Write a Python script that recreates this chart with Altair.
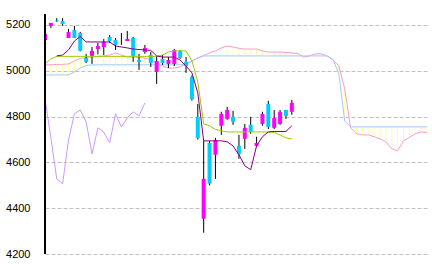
import altair as alt
import pandas as pd

# ---- candle data (index 0..42) ----
opens  = [5135, 5196, 5220, 5217, 5143, 5178, 5165, 5056, 5065, 5095, 5104, 5148, 5135, 5135, 5130, 5143, 5047, 5082, 5069, 4995,
          5052, 5030, 5030, 5087, 5039, 4973, 4799, 4354, 4685, 4633, 4760, 4790, 4799, 4672, 4703, 4764, 4672, 4768, 4855, 4751,
          4768, 4829, 4821]
highs  = [5163, 5209, 5230, 5230, 5183, 5196, 5170, 5074, 5104, 5122, 5139, 5156, 5143, 5165, 5174, 5148, 5074, 5113, 5082, 5065,
          5069, 5060, 5095, 5091, 5060, 4980, 4855, 4694, 4694, 4707, 4821, 4842, 4825, 4720, 4768, 4799, 4712, 4821, 4869, 4829,
          4829, 4829, 4873]
lows   = [5133, 5187, 5213, 5196, 5143, 5143, 5085, 5034, 5030, 5072, 5069, 5122, 5091, 5113, 5130, 5039, 5004, 5074, 5017, 4943,
          5026, 5012, 5021, 5052, 4991, 4870, 4700, 4293, 4500, 4528, 4720, 4786, 4764, 4616, 4659, 4725, 4668, 4760, 4746, 4746,
          4764, 4790, 4808]
closes = [5161, 5209, 5216, 5204, 5169, 5143, 5087, 5039, 5087, 5108, 5126, 5130, 5113, 5135, 5139, 5063, 5039, 5100, 5034, 5043,
          5034, 5047, 5091, 5056, 5021, 4877, 4707, 4528, 4507, 4698, 4812, 4829, 4777, 4637, 4751, 4733, 4685, 4812, 4755, 4794,
          4821, 4803, 4860]

# conversion line (starts at index 2)
tenkan = [5065, 5069, 5091, 5130, 5150, 5126, 5126, 5126, 5126, 5126, 5108, 5104, 5100, 5095, 5093, 5091, 5089, 5065, 5060, 5060,
          5060, 5047, 5021, 4991, 4903, 4694, 4694, 4694, 4694, 4690, 4672, 4633, 4585, 4568, 4672, 4712, 4733, 4735, 4735, 4735,
          4760]
# base line (index 0..42)
kijun = [5030, 5052] + [5063] * 18 + [5069, 5082, 5087, 5087, 5087, 5043, 4951, 4768, 4760, 4744, 4738] + [4733] * 8 + \
        [4731, 4720, 4707, 4703]
# lagging span (index 0..17)
chikou = [4877, 4707, 4528, 4507, 4698, 4812, 4829, 4777, 4637, 4751, 4733, 4685, 4812, 4755, 4794, 4821, 4803, 4860]
# leading spans (index 0..67)
span_a = [5026, 5026, 5028, 5028, 5030, 5043, 5054, 5058, 5060, 5063, 5065, 5069, 5078, 5069, 5060, 5060, 5058, 5056, 5047, 5034,
          5021, 5012, 5012, 5017, 5030, 5043, 5056, 5067, 5078, 5087, 5100, 5108, 5104, 5098, 5095, 5095, 5095, 5087, 5082, 5082,
          5082, 5080, 5078, 5076, 5060, 5065, 5074, 5074, 5065, 5047, 5021, 4921, 4751, 4725, 4720, 4720, 4712, 4703, 4690, 4659,
          4651, 4694, 4709, 4725, 4733, 4731, 4729, 4729]
span_b = [4982] * 5 + [4995, 5012, 5023] + [5026] * 16 + [5030, 5041, 5056] + [5065] * 22 + [5050, 4986, 4781] + [4755] * 16

y_ticks = [4200, 4400, 4600, 4800, 5000, 5200]

candles = pd.DataFrame({'i': list(range(len(closes))), 'o': opens, 'h': highs, 'l': lows, 'c': closes})
tk = pd.DataFrame({'i': list(range(2, 2 + len(tenkan))), 'v': tenkan})
kj = pd.DataFrame({'i': list(range(len(kijun))), 'v': kijun})
ch = pd.DataFrame({'i': list(range(len(chikou))), 'v': chikou})
cloud = pd.DataFrame({'i': list(range(len(span_a))), 'a': span_a, 'b': span_b})

xs = alt.Scale(domain=[0, 65], nice=False, zero=False, padding=0)
ys = alt.Scale(domain=[4200, 5248], nice=False, zero=False, padding=0)
yaxis = alt.Axis(values=y_ticks, format='d', grid=True, gridDash=[4, 2], gridColor='#c0c0c0', gridWidth=1,
                 domain=False, ticks=False, labelPadding=15, labelFont='Liberation Sans',
                 labelFontSize=11, labelColor='#000000', title=None)
X = alt.X('i:Q', scale=xs, axis=None)


def Y(field):
    return alt.Y(field, scale=ys, axis=yaxis)


cbase = alt.Chart(cloud)
fill = cbase.mark_rule(color='#ffff99', strokeWidth=1, clip=True).encode(x=X, y=Y('a:Q'), y2='b:Q')
line_a = cbase.mark_line(color='#ff99cc', strokeWidth=1, clip=True).encode(x=X, y=Y('a:Q'))
line_b = cbase.mark_line(color='#99ccff', strokeWidth=1, clip=True).encode(x=X, y=Y('b:Q'))

wicks = alt.Chart(candles).mark_rule(color='#000000', strokeWidth=1, clip=True).encode(x=X, y=Y('l:Q'), y2='h:Q')
bodies = alt.Chart(candles).mark_bar(size=4, clip=True).encode(
    x=X, y=Y('o:Q'), y2='c:Q',
    color=alt.condition('datum.c > datum.o', alt.value('#ff00ff'), alt.value('#00ccff')))

kline = alt.Chart(kj).mark_line(color='#99cc00', strokeWidth=1, clip=True).encode(x=X, y=Y('v:Q'))
tline = alt.Chart(tk).mark_line(color='#800080', strokeWidth=1, clip=True).encode(x=X, y=Y('v:Q'))
cline = alt.Chart(ch).mark_line(color='#cc99ff', strokeWidth=1, clip=True).encode(x=X, y=Y('v:Q'))

axis_line = alt.Chart(cloud).mark_rule(color='#000000', strokeWidth=1.5).encode(
    x=alt.value(0), y=alt.value(0), y2=alt.value(240))

chart = alt.layer(fill, line_a, line_b, wicks, bodies, kline, tline, cline, axis_line).properties(
    width=382, height=240,
    padding={'left': 45, 'top': 14, 'right': 5, 'bottom': 14},
    autosize=alt.AutoSizeParams(type='none'),
    background='#ffffff'
).configure_view(stroke=None)

chart.save("out.html", embed_options={"renderer": "svg", "actions": False})
